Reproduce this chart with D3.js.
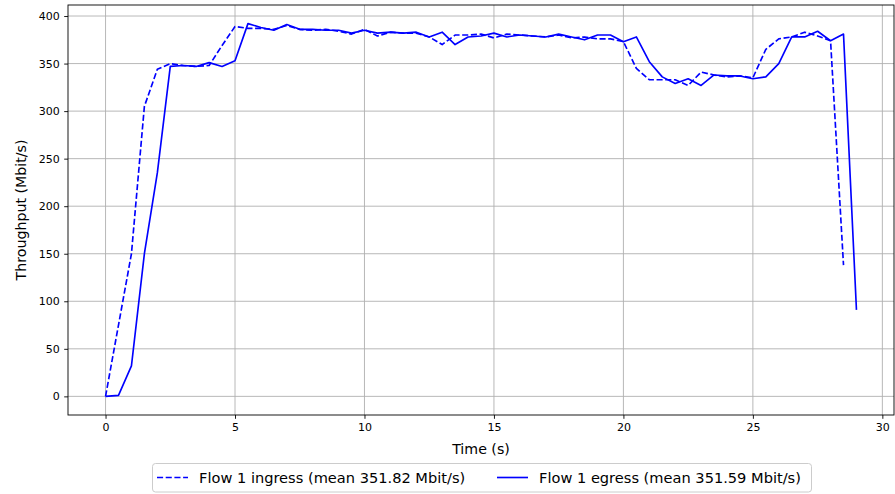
<!DOCTYPE html>
<html>
<head>
<meta charset="utf-8">
<script src="https://cdn.jsdelivr.net/npm/d3@7"></script>
<style>
  html, body { margin: 0; padding: 0; background: #fff; }
  svg { display: block; font-family: "DejaVu Sans", sans-serif; }
</style>
</head>
<body>
<svg id="chart" width="895" height="494"></svg>
<script>
// ---- data ----
const ingressTime = [0,0.5,1,1.5,2,2.5,3,3.5,4,4.5,5,5.5,6,6.5,7,7.5,8,8.5,9,9.5,10,10.5,11,11.5,12,12.5,13,13.5,14,14.5,15,15.5,16,16.5,17,17.5,18,18.5,19,19.5,20,20.5,21,21.5,22,22.5,23,23.5,24,24.5,25,25.5,26,26.5,27,27.5,28,28.5];
const ingressValues = [0,75,150,305,344,350,348,347,348,369,389,387,387,386,390,386,385,386,384,381,386,379,383,382,382,378,370,380,380,381,377,381,380,379,378,380,377,378,376,376,373,345,333,333,333,327,341,338,336,337,335,365,376,378,383,379,374,138];
const egressTime = [0,0.5,1,1.5,2,2.5,3,3.5,4,4.5,5,5.5,6,6.5,7,7.5,8,8.5,9,9.5,10,10.5,11,11.5,12,12.5,13,13.5,14,14.5,15,15.5,16,16.5,17,17.5,18,18.5,19,19.5,20,20.5,21,21.5,22,22.5,23,23.5,24,24.5,25,25.5,26,26.5,27,27.5,28,28.5,29];
const egressValues = [0,1,32,150,235,347,348,347,351,347,353,392,388,385,391,386,386,385,385,382,385,382,383,382,383,378,383,370,378,379,382,378,380,379,378,381,378,375,380,380,373,378,352,336,329,334,327,338,337,337,334,336,350,378,378,384,374,381,91];
const xTicks = [0,5,10,15,20,25,30];
const yTicks = [0,50,100,150,200,250,300,350,400];
const legendLabels = ["Flow 1 ingress (mean 351.82 Mbit/s)", "Flow 1 egress (mean 351.59 Mbit/s)"];
const xLabel = "Time (s)";
const yLabel = "Throughput (Mbit/s)";

// ---- layout ----
const svg = d3.select("#chart");
const L = 68, R = 894, T = 5, B = 415;
const x = d3.scaleLinear().domain([-1.45, 30.45]).range([L, R]);
const y = d3.scaleLinear().domain([-19.6, 411.6]).range([B, T]);
const blue = "#0000ff";

// grid
const g = svg.append("g");
g.selectAll("line.vg").data(xTicks).enter().append("line")
  .attr("x1", d => x(d)).attr("x2", d => x(d)).attr("y1", T).attr("y2", B)
  .attr("stroke", "#b0b0b0").attr("stroke-width", 0.9);
g.selectAll("line.hg").data(yTicks).enter().append("line")
  .attr("y1", d => y(d)).attr("y2", d => y(d)).attr("x1", L).attr("x2", R)
  .attr("stroke", "#b0b0b0").attr("stroke-width", 0.9);

// lines
const line = d3.line().x(d => x(d[0])).y(d => y(d[1]));
const ingress = ingressTime.map((t, i) => [t, ingressValues[i]]);
const egress = egressTime.map((t, i) => [t, egressValues[i]]);
svg.append("path").datum(ingress).attr("d", line)
  .attr("fill", "none").attr("stroke", blue).attr("stroke-width", 1.65)
  .attr("stroke-dasharray", "6.1,2.6").attr("stroke-linejoin", "round");
svg.append("path").datum(egress).attr("d", line)
  .attr("fill", "none").attr("stroke", blue).attr("stroke-width", 1.65)
  .attr("stroke-linejoin", "round");

// axes
const xAxis = d3.axisBottom(x).tickValues(xTicks).tickSize(3.8).tickPadding(4.5).tickFormat(d3.format("d"));
const yAxis = d3.axisLeft(y).tickValues(yTicks).tickSize(3.8).tickPadding(4.5).tickFormat(d3.format("d"));
const gx = svg.append("g").attr("transform", `translate(0,${B})`).call(xAxis);
const gy = svg.append("g").attr("transform", `translate(${L},0)`).call(yAxis);
[gx, gy].forEach(a => {
  a.select(".domain").remove();
  a.selectAll("line").attr("stroke", "#000").attr("stroke-width", 0.9);
  a.selectAll("text").attr("font-size", "11px").attr("fill", "#000").attr("font-family", "DejaVu Sans");
});

// frame
svg.append("rect").attr("x", L).attr("y", T).attr("width", R - L).attr("height", B - T)
  .attr("fill", "none").attr("stroke", "#000").attr("stroke-width", 0.9);

// axis labels
svg.append("text").attr("x", (L + R) / 2).attr("y", 453.5).attr("text-anchor", "middle")
  .attr("font-size", "14.2px").text(xLabel);
svg.append("text").attr("transform", `translate(25.5,${(T + B) / 2}) rotate(-90)`).attr("text-anchor", "middle")
  .attr("font-size", "14.2px").text(yLabel);

// legend
const lg = svg.append("g");
lg.append("rect").attr("x", 152.5).attr("y", 463.5).attr("width", 659).attr("height", 28.5)
  .attr("rx", 3).attr("fill", "#fff").attr("stroke", "#cccccc").attr("stroke-width", 1);
const legendItems = [
  {label: legendLabels[0], dash: "6.1,2.6", x0: 157, tx: 199},
  {label: legendLabels[1], dash: null, x0: 497, tx: 539}
];
legendItems.forEach(it => {
  lg.append("line").attr("x1", it.x0).attr("x2", it.x0 + 31).attr("y1", 477.5).attr("y2", 477.5)
    .attr("stroke", blue).attr("stroke-width", 1.65).attr("stroke-dasharray", it.dash);
  lg.append("text").attr("x", it.tx).attr("y", 482.5).attr("font-size", "14.6px").text(it.label);
});
</script>
</body>
</html>
